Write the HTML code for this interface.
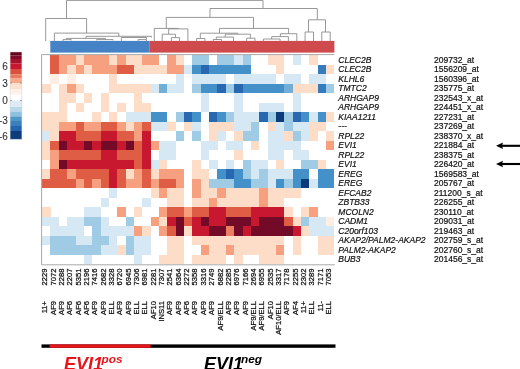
<!DOCTYPE html>
<html><head><meta charset="utf-8"><title>EVI1 heatmap</title>
<style>
html,body{margin:0;padding:0;background:#fff;}
body{width:520px;height:369px;overflow:hidden;}
svg{display:block;font-family:"Liberation Sans",sans-serif;filter:blur(0.5px);}
</style></head><body>
<svg width="520" height="369" viewBox="0 0 520 369">
<rect x="0" y="0" width="520" height="369" fill="#fff"/>
<g shape-rendering="crispEdges">
<rect x="50.45" y="55.00" width="8.40" height="9.55" fill="#df5d45"/><rect x="58.80" y="55.00" width="8.40" height="9.55" fill="#f7a07f"/><rect x="67.15" y="55.00" width="8.40" height="9.55" fill="#f7a07f"/><rect x="75.50" y="55.00" width="8.40" height="9.55" fill="#fddcc8"/><rect x="83.85" y="55.00" width="8.40" height="9.55" fill="#f7a07f"/><rect x="92.20" y="55.00" width="8.40" height="9.55" fill="#f7a07f"/><rect x="100.55" y="55.00" width="8.40" height="9.55" fill="#f7a07f"/><rect x="108.90" y="55.00" width="8.40" height="9.55" fill="#fddcc8"/><rect x="117.25" y="55.00" width="8.40" height="9.55" fill="#f7a07f"/><rect x="125.60" y="55.00" width="8.40" height="9.55" fill="#fddcc8"/><rect x="133.95" y="55.00" width="8.40" height="9.55" fill="#fddcc8"/><rect x="142.30" y="55.00" width="8.40" height="9.55" fill="#f7a07f"/><rect x="150.65" y="55.00" width="8.40" height="9.55" fill="#f7a07f"/><rect x="167.35" y="55.00" width="8.40" height="9.55" fill="#f7a07f"/><rect x="175.70" y="55.00" width="8.40" height="9.55" fill="#fddcc8"/><rect x="192.40" y="55.00" width="8.40" height="9.55" fill="#a0cbe4"/><rect x="200.75" y="55.00" width="8.40" height="9.55" fill="#a0cbe4"/><rect x="217.45" y="55.00" width="8.40" height="9.55" fill="#a0cbe4"/><rect x="225.80" y="55.00" width="8.40" height="9.55" fill="#a0cbe4"/><rect x="234.15" y="55.00" width="8.40" height="9.55" fill="#d6e8f3"/><rect x="242.50" y="55.00" width="8.40" height="9.55" fill="#a0cbe4"/><rect x="267.55" y="55.00" width="8.40" height="9.55" fill="#fddcc8"/><rect x="275.90" y="55.00" width="8.40" height="9.55" fill="#fddcc8"/><rect x="292.60" y="55.00" width="8.40" height="9.55" fill="#d6e8f3"/><rect x="309.30" y="55.00" width="8.40" height="9.55" fill="#fddcc8"/>
<rect x="50.45" y="64.50" width="8.40" height="9.55" fill="#df5d45"/><rect x="58.80" y="64.50" width="8.40" height="9.55" fill="#f7a07f"/><rect x="67.15" y="64.50" width="8.40" height="9.55" fill="#fddcc8"/><rect x="75.50" y="64.50" width="8.40" height="9.55" fill="#f7a07f"/><rect x="83.85" y="64.50" width="8.40" height="9.55" fill="#fddcc8"/><rect x="92.20" y="64.50" width="8.40" height="9.55" fill="#f7a07f"/><rect x="100.55" y="64.50" width="8.40" height="9.55" fill="#f7a07f"/><rect x="108.90" y="64.50" width="8.40" height="9.55" fill="#f7a07f"/><rect x="117.25" y="64.50" width="8.40" height="9.55" fill="#df5d45"/><rect x="125.60" y="64.50" width="8.40" height="9.55" fill="#df5d45"/><rect x="133.95" y="64.50" width="8.40" height="9.55" fill="#fddcc8"/><rect x="142.30" y="64.50" width="8.40" height="9.55" fill="#fddcc8"/><rect x="150.65" y="64.50" width="8.40" height="9.55" fill="#fddcc8"/><rect x="159.00" y="64.50" width="8.40" height="9.55" fill="#fddcc8"/><rect x="167.35" y="64.50" width="8.40" height="9.55" fill="#f7a07f"/><rect x="175.70" y="64.50" width="8.40" height="9.55" fill="#f7a07f"/><rect x="184.05" y="64.50" width="8.40" height="9.55" fill="#d6e8f3"/><rect x="192.40" y="64.50" width="8.40" height="9.55" fill="#4490c8"/><rect x="200.75" y="64.50" width="8.40" height="9.55" fill="#2768b0"/><rect x="209.10" y="64.50" width="8.40" height="9.55" fill="#4490c8"/><rect x="217.45" y="64.50" width="8.40" height="9.55" fill="#4490c8"/><rect x="225.80" y="64.50" width="8.40" height="9.55" fill="#4490c8"/><rect x="234.15" y="64.50" width="8.40" height="9.55" fill="#4490c8"/><rect x="242.50" y="64.50" width="8.40" height="9.55" fill="#4490c8"/><rect x="275.90" y="64.50" width="8.40" height="9.55" fill="#fddcc8"/><rect x="317.65" y="64.50" width="8.40" height="9.55" fill="#367cbc"/><rect x="326.00" y="64.50" width="8.40" height="9.55" fill="#fddcc8"/>
<rect x="50.45" y="74.00" width="8.40" height="9.55" fill="#feeee4"/><rect x="67.15" y="74.00" width="8.40" height="9.55" fill="#feeee4"/><rect x="108.90" y="74.00" width="8.40" height="9.55" fill="#fddcc8"/><rect x="175.70" y="74.00" width="8.40" height="9.55" fill="#d6e8f3"/><rect x="192.40" y="74.00" width="8.40" height="9.55" fill="#d6e8f3"/><rect x="200.75" y="74.00" width="8.40" height="9.55" fill="#d6e8f3"/><rect x="209.10" y="74.00" width="8.40" height="9.55" fill="#d6e8f3"/><rect x="217.45" y="74.00" width="8.40" height="9.55" fill="#d6e8f3"/><rect x="234.15" y="74.00" width="8.40" height="9.55" fill="#d6e8f3"/><rect x="242.50" y="74.00" width="8.40" height="9.55" fill="#d6e8f3"/><rect x="250.85" y="74.00" width="8.40" height="9.55" fill="#d6e8f3"/><rect x="259.20" y="74.00" width="8.40" height="9.55" fill="#d6e8f3"/><rect x="267.55" y="74.00" width="8.40" height="9.55" fill="#d6e8f3"/><rect x="284.25" y="74.00" width="8.40" height="9.55" fill="#d6e8f3"/><rect x="292.60" y="74.00" width="8.40" height="9.55" fill="#d6e8f3"/><rect x="309.30" y="74.00" width="8.40" height="9.55" fill="#d6e8f3"/><rect x="317.65" y="74.00" width="8.40" height="9.55" fill="#d6e8f3"/>
<rect x="42.10" y="83.50" width="8.40" height="9.55" fill="#fddcc8"/><rect x="58.80" y="83.50" width="8.40" height="9.55" fill="#fddcc8"/><rect x="67.15" y="83.50" width="8.40" height="9.55" fill="#f7a07f"/><rect x="75.50" y="83.50" width="8.40" height="9.55" fill="#fddcc8"/><rect x="108.90" y="83.50" width="8.40" height="9.55" fill="#fddcc8"/><rect x="117.25" y="83.50" width="8.40" height="9.55" fill="#fddcc8"/><rect x="125.60" y="83.50" width="8.40" height="9.55" fill="#fddcc8"/><rect x="133.95" y="83.50" width="8.40" height="9.55" fill="#fddcc8"/><rect x="142.30" y="83.50" width="8.40" height="9.55" fill="#fddcc8"/><rect x="150.65" y="83.50" width="8.40" height="9.55" fill="#d6e8f3"/><rect x="159.00" y="83.50" width="8.40" height="9.55" fill="#72aed6"/><rect x="167.35" y="83.50" width="8.40" height="9.55" fill="#d6e8f3"/><rect x="175.70" y="83.50" width="8.40" height="9.55" fill="#d6e8f3"/><rect x="192.40" y="83.50" width="8.40" height="9.55" fill="#a0cbe4"/><rect x="200.75" y="83.50" width="8.40" height="9.55" fill="#4490c8"/><rect x="209.10" y="83.50" width="8.40" height="9.55" fill="#4490c8"/><rect x="217.45" y="83.50" width="8.40" height="9.55" fill="#2768b0"/><rect x="225.80" y="83.50" width="8.40" height="9.55" fill="#a0cbe4"/><rect x="234.15" y="83.50" width="8.40" height="9.55" fill="#2768b0"/><rect x="242.50" y="83.50" width="8.40" height="9.55" fill="#4490c8"/><rect x="250.85" y="83.50" width="8.40" height="9.55" fill="#4490c8"/><rect x="259.20" y="83.50" width="8.40" height="9.55" fill="#4490c8"/><rect x="267.55" y="83.50" width="8.40" height="9.55" fill="#4490c8"/><rect x="275.90" y="83.50" width="8.40" height="9.55" fill="#4490c8"/><rect x="284.25" y="83.50" width="8.40" height="9.55" fill="#72aed6"/><rect x="292.60" y="83.50" width="8.40" height="9.55" fill="#fddcc8"/><rect x="300.95" y="83.50" width="8.40" height="9.55" fill="#fddcc8"/><rect x="309.30" y="83.50" width="8.40" height="9.55" fill="#fddcc8"/><rect x="317.65" y="83.50" width="8.40" height="9.55" fill="#367cbc"/><rect x="326.00" y="83.50" width="8.40" height="9.55" fill="#a0cbe4"/>
<rect x="58.80" y="93.00" width="8.40" height="9.55" fill="#fddcc8"/><rect x="67.15" y="93.00" width="8.40" height="9.55" fill="#fddcc8"/><rect x="83.85" y="93.00" width="8.40" height="9.55" fill="#fddcc8"/><rect x="100.55" y="93.00" width="8.40" height="9.55" fill="#fddcc8"/><rect x="133.95" y="93.00" width="8.40" height="9.55" fill="#fddcc8"/><rect x="200.75" y="93.00" width="8.40" height="9.55" fill="#d6e8f3"/><rect x="234.15" y="93.00" width="8.40" height="9.55" fill="#d6e8f3"/><rect x="292.60" y="93.00" width="8.40" height="9.55" fill="#d6e8f3"/>
<rect x="58.80" y="102.50" width="8.40" height="9.55" fill="#fddcc8"/><rect x="75.50" y="102.50" width="8.40" height="9.55" fill="#fddcc8"/><rect x="100.55" y="102.50" width="8.40" height="9.55" fill="#fddcc8"/><rect x="117.25" y="102.50" width="8.40" height="9.55" fill="#fddcc8"/><rect x="133.95" y="102.50" width="8.40" height="9.55" fill="#fddcc8"/><rect x="142.30" y="102.50" width="8.40" height="9.55" fill="#fddcc8"/><rect x="200.75" y="102.50" width="8.40" height="9.55" fill="#d6e8f3"/><rect x="234.15" y="102.50" width="8.40" height="9.55" fill="#d6e8f3"/><rect x="259.20" y="102.50" width="8.40" height="9.55" fill="#d6e8f3"/><rect x="267.55" y="102.50" width="8.40" height="9.55" fill="#d6e8f3"/><rect x="275.90" y="102.50" width="8.40" height="9.55" fill="#d6e8f3"/><rect x="292.60" y="102.50" width="8.40" height="9.55" fill="#d6e8f3"/>
<rect x="42.10" y="112.00" width="8.40" height="9.55" fill="#fddcc8"/><rect x="50.45" y="112.00" width="8.40" height="9.55" fill="#fddcc8"/><rect x="58.80" y="112.00" width="8.40" height="9.55" fill="#fddcc8"/><rect x="92.20" y="112.00" width="8.40" height="9.55" fill="#fddcc8"/><rect x="108.90" y="112.00" width="8.40" height="9.55" fill="#fddcc8"/><rect x="125.60" y="112.00" width="8.40" height="9.55" fill="#d6e8f3"/><rect x="133.95" y="112.00" width="8.40" height="9.55" fill="#d6e8f3"/><rect x="142.30" y="112.00" width="8.40" height="9.55" fill="#d6e8f3"/><rect x="150.65" y="112.00" width="8.40" height="9.55" fill="#4490c8"/><rect x="159.00" y="112.00" width="8.40" height="9.55" fill="#4490c8"/><rect x="175.70" y="112.00" width="8.40" height="9.55" fill="#a0cbe4"/><rect x="184.05" y="112.00" width="8.40" height="9.55" fill="#2768b0"/><rect x="192.40" y="112.00" width="8.40" height="9.55" fill="#4490c8"/><rect x="209.10" y="112.00" width="8.40" height="9.55" fill="#2768b0"/><rect x="217.45" y="112.00" width="8.40" height="9.55" fill="#4490c8"/><rect x="225.80" y="112.00" width="8.40" height="9.55" fill="#a0cbe4"/><rect x="234.15" y="112.00" width="8.40" height="9.55" fill="#d6e8f3"/><rect x="242.50" y="112.00" width="8.40" height="9.55" fill="#d6e8f3"/><rect x="250.85" y="112.00" width="8.40" height="9.55" fill="#d6e8f3"/><rect x="259.20" y="112.00" width="8.40" height="9.55" fill="#2768b0"/><rect x="267.55" y="112.00" width="8.40" height="9.55" fill="#a0cbe4"/><rect x="275.90" y="112.00" width="8.40" height="9.55" fill="#0d3a78"/><rect x="284.25" y="112.00" width="8.40" height="9.55" fill="#a0cbe4"/><rect x="292.60" y="112.00" width="8.40" height="9.55" fill="#2768b0"/><rect x="300.95" y="112.00" width="8.40" height="9.55" fill="#4490c8"/><rect x="309.30" y="112.00" width="8.40" height="9.55" fill="#d6e8f3"/><rect x="317.65" y="112.00" width="8.40" height="9.55" fill="#4490c8"/><rect x="326.00" y="112.00" width="8.40" height="9.55" fill="#fddcc8"/>
<rect x="42.10" y="121.50" width="8.40" height="9.55" fill="#fddcc8"/><rect x="50.45" y="121.50" width="8.40" height="9.55" fill="#fddcc8"/><rect x="58.80" y="121.50" width="8.40" height="9.55" fill="#f7a07f"/><rect x="67.15" y="121.50" width="8.40" height="9.55" fill="#f7a07f"/><rect x="75.50" y="121.50" width="8.40" height="9.55" fill="#df5d45"/><rect x="83.85" y="121.50" width="8.40" height="9.55" fill="#f7a07f"/><rect x="92.20" y="121.50" width="8.40" height="9.55" fill="#f7a07f"/><rect x="100.55" y="121.50" width="8.40" height="9.55" fill="#df5d45"/><rect x="108.90" y="121.50" width="8.40" height="9.55" fill="#df5d45"/><rect x="117.25" y="121.50" width="8.40" height="9.55" fill="#f7a07f"/><rect x="125.60" y="121.50" width="8.40" height="9.55" fill="#fddcc8"/><rect x="133.95" y="121.50" width="8.40" height="9.55" fill="#f7a07f"/><rect x="142.30" y="121.50" width="8.40" height="9.55" fill="#df5d45"/><rect x="150.65" y="121.50" width="8.40" height="9.55" fill="#d6e8f3"/><rect x="159.00" y="121.50" width="8.40" height="9.55" fill="#d6e8f3"/><rect x="167.35" y="121.50" width="8.40" height="9.55" fill="#fddcc8"/><rect x="184.05" y="121.50" width="8.40" height="9.55" fill="#fddcc8"/><rect x="192.40" y="121.50" width="8.40" height="9.55" fill="#d6e8f3"/><rect x="209.10" y="121.50" width="8.40" height="9.55" fill="#fddcc8"/><rect x="217.45" y="121.50" width="8.40" height="9.55" fill="#fddcc8"/><rect x="225.80" y="121.50" width="8.40" height="9.55" fill="#fddcc8"/><rect x="234.15" y="121.50" width="8.40" height="9.55" fill="#d6e8f3"/><rect x="242.50" y="121.50" width="8.40" height="9.55" fill="#d6e8f3"/><rect x="250.85" y="121.50" width="8.40" height="9.55" fill="#a0cbe4"/><rect x="267.55" y="121.50" width="8.40" height="9.55" fill="#fddcc8"/><rect x="275.90" y="121.50" width="8.40" height="9.55" fill="#d6e8f3"/><rect x="284.25" y="121.50" width="8.40" height="9.55" fill="#a0cbe4"/><rect x="292.60" y="121.50" width="8.40" height="9.55" fill="#d6e8f3"/><rect x="300.95" y="121.50" width="8.40" height="9.55" fill="#d6e8f3"/><rect x="309.30" y="121.50" width="8.40" height="9.55" fill="#fddcc8"/><rect x="317.65" y="121.50" width="8.40" height="9.55" fill="#fddcc8"/>
<rect x="42.10" y="131.00" width="8.40" height="9.55" fill="#d6e8f3"/><rect x="50.45" y="131.00" width="8.40" height="9.55" fill="#fddcc8"/><rect x="58.80" y="131.00" width="8.40" height="9.55" fill="#c8182f"/><rect x="67.15" y="131.00" width="8.40" height="9.55" fill="#c8182f"/><rect x="75.50" y="131.00" width="8.40" height="9.55" fill="#df5d45"/><rect x="83.85" y="131.00" width="8.40" height="9.55" fill="#df5d45"/><rect x="92.20" y="131.00" width="8.40" height="9.55" fill="#df5d45"/><rect x="100.55" y="131.00" width="8.40" height="9.55" fill="#c8182f"/><rect x="108.90" y="131.00" width="8.40" height="9.55" fill="#c8182f"/><rect x="117.25" y="131.00" width="8.40" height="9.55" fill="#df5d45"/><rect x="125.60" y="131.00" width="8.40" height="9.55" fill="#df5d45"/><rect x="133.95" y="131.00" width="8.40" height="9.55" fill="#f7a07f"/><rect x="142.30" y="131.00" width="8.40" height="9.55" fill="#c8182f"/><rect x="175.70" y="131.00" width="8.40" height="9.55" fill="#a0cbe4"/><rect x="192.40" y="131.00" width="8.40" height="9.55" fill="#a0cbe4"/><rect x="209.10" y="131.00" width="8.40" height="9.55" fill="#fddcc8"/><rect x="217.45" y="131.00" width="8.40" height="9.55" fill="#d6e8f3"/><rect x="234.15" y="131.00" width="8.40" height="9.55" fill="#fddcc8"/><rect x="242.50" y="131.00" width="8.40" height="9.55" fill="#a0cbe4"/><rect x="250.85" y="131.00" width="8.40" height="9.55" fill="#a0cbe4"/><rect x="267.55" y="131.00" width="8.40" height="9.55" fill="#d6e8f3"/><rect x="275.90" y="131.00" width="8.40" height="9.55" fill="#d6e8f3"/><rect x="284.25" y="131.00" width="8.40" height="9.55" fill="#fddcc8"/><rect x="292.60" y="131.00" width="8.40" height="9.55" fill="#a0cbe4"/><rect x="300.95" y="131.00" width="8.40" height="9.55" fill="#d6e8f3"/><rect x="309.30" y="131.00" width="8.40" height="9.55" fill="#fddcc8"/><rect x="326.00" y="131.00" width="8.40" height="9.55" fill="#fddcc8"/>
<rect x="42.10" y="140.50" width="8.40" height="9.55" fill="#fddcc8"/><rect x="50.45" y="140.50" width="8.40" height="9.55" fill="#df5d45"/><rect x="58.80" y="140.50" width="8.40" height="9.55" fill="#730a27"/><rect x="67.15" y="140.50" width="8.40" height="9.55" fill="#c8182f"/><rect x="75.50" y="140.50" width="8.40" height="9.55" fill="#c8182f"/><rect x="83.85" y="140.50" width="8.40" height="9.55" fill="#730a27"/><rect x="92.20" y="140.50" width="8.40" height="9.55" fill="#c8182f"/><rect x="100.55" y="140.50" width="8.40" height="9.55" fill="#730a27"/><rect x="108.90" y="140.50" width="8.40" height="9.55" fill="#730a27"/><rect x="117.25" y="140.50" width="8.40" height="9.55" fill="#c8182f"/><rect x="125.60" y="140.50" width="8.40" height="9.55" fill="#730a27"/><rect x="133.95" y="140.50" width="8.40" height="9.55" fill="#df5d45"/><rect x="142.30" y="140.50" width="8.40" height="9.55" fill="#c8182f"/><rect x="150.65" y="140.50" width="8.40" height="9.55" fill="#f7a07f"/><rect x="159.00" y="140.50" width="8.40" height="9.55" fill="#d6e8f3"/><rect x="167.35" y="140.50" width="8.40" height="9.55" fill="#d6e8f3"/><rect x="200.75" y="140.50" width="8.40" height="9.55" fill="#d6e8f3"/><rect x="209.10" y="140.50" width="8.40" height="9.55" fill="#d6e8f3"/><rect x="225.80" y="140.50" width="8.40" height="9.55" fill="#d6e8f3"/><rect x="234.15" y="140.50" width="8.40" height="9.55" fill="#d6e8f3"/><rect x="250.85" y="140.50" width="8.40" height="9.55" fill="#fddcc8"/><rect x="267.55" y="140.50" width="8.40" height="9.55" fill="#d6e8f3"/><rect x="275.90" y="140.50" width="8.40" height="9.55" fill="#d6e8f3"/><rect x="284.25" y="140.50" width="8.40" height="9.55" fill="#d6e8f3"/><rect x="292.60" y="140.50" width="8.40" height="9.55" fill="#d6e8f3"/><rect x="326.00" y="140.50" width="8.40" height="9.55" fill="#f7a07f"/>
<rect x="42.10" y="150.00" width="8.40" height="9.55" fill="#fddcc8"/><rect x="50.45" y="150.00" width="8.40" height="9.55" fill="#f7a07f"/><rect x="58.80" y="150.00" width="8.40" height="9.55" fill="#df5d45"/><rect x="67.15" y="150.00" width="8.40" height="9.55" fill="#df5d45"/><rect x="75.50" y="150.00" width="8.40" height="9.55" fill="#df5d45"/><rect x="83.85" y="150.00" width="8.40" height="9.55" fill="#df5d45"/><rect x="92.20" y="150.00" width="8.40" height="9.55" fill="#df5d45"/><rect x="100.55" y="150.00" width="8.40" height="9.55" fill="#c8182f"/><rect x="108.90" y="150.00" width="8.40" height="9.55" fill="#c8182f"/><rect x="117.25" y="150.00" width="8.40" height="9.55" fill="#df5d45"/><rect x="125.60" y="150.00" width="8.40" height="9.55" fill="#df5d45"/><rect x="133.95" y="150.00" width="8.40" height="9.55" fill="#df5d45"/><rect x="142.30" y="150.00" width="8.40" height="9.55" fill="#c8182f"/><rect x="159.00" y="150.00" width="8.40" height="9.55" fill="#d6e8f3"/><rect x="167.35" y="150.00" width="8.40" height="9.55" fill="#d6e8f3"/><rect x="200.75" y="150.00" width="8.40" height="9.55" fill="#d6e8f3"/><rect x="234.15" y="150.00" width="8.40" height="9.55" fill="#fddcc8"/><rect x="267.55" y="150.00" width="8.40" height="9.55" fill="#d6e8f3"/><rect x="275.90" y="150.00" width="8.40" height="9.55" fill="#d6e8f3"/><rect x="292.60" y="150.00" width="8.40" height="9.55" fill="#d6e8f3"/><rect x="300.95" y="150.00" width="8.40" height="9.55" fill="#d6e8f3"/>
<rect x="50.45" y="159.50" width="8.40" height="9.55" fill="#f7a07f"/><rect x="58.80" y="159.50" width="8.40" height="9.55" fill="#730a27"/><rect x="67.15" y="159.50" width="8.40" height="9.55" fill="#c8182f"/><rect x="75.50" y="159.50" width="8.40" height="9.55" fill="#c8182f"/><rect x="83.85" y="159.50" width="8.40" height="9.55" fill="#c8182f"/><rect x="92.20" y="159.50" width="8.40" height="9.55" fill="#c8182f"/><rect x="100.55" y="159.50" width="8.40" height="9.55" fill="#c8182f"/><rect x="108.90" y="159.50" width="8.40" height="9.55" fill="#c8182f"/><rect x="117.25" y="159.50" width="8.40" height="9.55" fill="#c8182f"/><rect x="125.60" y="159.50" width="8.40" height="9.55" fill="#c8182f"/><rect x="133.95" y="159.50" width="8.40" height="9.55" fill="#df5d45"/><rect x="142.30" y="159.50" width="8.40" height="9.55" fill="#c8182f"/><rect x="150.65" y="159.50" width="8.40" height="9.55" fill="#d6e8f3"/><rect x="159.00" y="159.50" width="8.40" height="9.55" fill="#fddcc8"/><rect x="192.40" y="159.50" width="8.40" height="9.55" fill="#fddcc8"/><rect x="209.10" y="159.50" width="8.40" height="9.55" fill="#d6e8f3"/><rect x="225.80" y="159.50" width="8.40" height="9.55" fill="#d6e8f3"/><rect x="242.50" y="159.50" width="8.40" height="9.55" fill="#a0cbe4"/><rect x="250.85" y="159.50" width="8.40" height="9.55" fill="#d6e8f3"/><rect x="259.20" y="159.50" width="8.40" height="9.55" fill="#d6e8f3"/><rect x="275.90" y="159.50" width="8.40" height="9.55" fill="#fddcc8"/><rect x="300.95" y="159.50" width="8.40" height="9.55" fill="#a0cbe4"/><rect x="309.30" y="159.50" width="8.40" height="9.55" fill="#a0cbe4"/><rect x="317.65" y="159.50" width="8.40" height="9.55" fill="#fddcc8"/>
<rect x="42.10" y="169.00" width="8.40" height="9.55" fill="#fddcc8"/><rect x="50.45" y="169.00" width="8.40" height="9.55" fill="#df5d45"/><rect x="58.80" y="169.00" width="8.40" height="9.55" fill="#df5d45"/><rect x="67.15" y="169.00" width="8.40" height="9.55" fill="#f7a07f"/><rect x="75.50" y="169.00" width="8.40" height="9.55" fill="#df5d45"/><rect x="83.85" y="169.00" width="8.40" height="9.55" fill="#df5d45"/><rect x="92.20" y="169.00" width="8.40" height="9.55" fill="#df5d45"/><rect x="100.55" y="169.00" width="8.40" height="9.55" fill="#df5d45"/><rect x="108.90" y="169.00" width="8.40" height="9.55" fill="#c8182f"/><rect x="117.25" y="169.00" width="8.40" height="9.55" fill="#df5d45"/><rect x="125.60" y="169.00" width="8.40" height="9.55" fill="#fddcc8"/><rect x="133.95" y="169.00" width="8.40" height="9.55" fill="#f7a07f"/><rect x="142.30" y="169.00" width="8.40" height="9.55" fill="#df5d45"/><rect x="150.65" y="169.00" width="8.40" height="9.55" fill="#fddcc8"/><rect x="159.00" y="169.00" width="8.40" height="9.55" fill="#f7a07f"/><rect x="167.35" y="169.00" width="8.40" height="9.55" fill="#f7a07f"/><rect x="175.70" y="169.00" width="8.40" height="9.55" fill="#f7a07f"/><rect x="192.40" y="169.00" width="8.40" height="9.55" fill="#fddcc8"/><rect x="200.75" y="169.00" width="8.40" height="9.55" fill="#fddcc8"/><rect x="217.45" y="169.00" width="8.40" height="9.55" fill="#4490c8"/><rect x="225.80" y="169.00" width="8.40" height="9.55" fill="#2768b0"/><rect x="234.15" y="169.00" width="8.40" height="9.55" fill="#4490c8"/><rect x="242.50" y="169.00" width="8.40" height="9.55" fill="#a0cbe4"/><rect x="250.85" y="169.00" width="8.40" height="9.55" fill="#d6e8f3"/><rect x="259.20" y="169.00" width="8.40" height="9.55" fill="#a0cbe4"/><rect x="267.55" y="169.00" width="8.40" height="9.55" fill="#d6e8f3"/><rect x="275.90" y="169.00" width="8.40" height="9.55" fill="#d6e8f3"/><rect x="284.25" y="169.00" width="8.40" height="9.55" fill="#d6e8f3"/><rect x="292.60" y="169.00" width="8.40" height="9.55" fill="#4490c8"/><rect x="300.95" y="169.00" width="8.40" height="9.55" fill="#4490c8"/><rect x="317.65" y="169.00" width="8.40" height="9.55" fill="#4490c8"/><rect x="326.00" y="169.00" width="8.40" height="9.55" fill="#4490c8"/>
<rect x="42.10" y="178.50" width="8.40" height="9.55" fill="#df5d45"/><rect x="50.45" y="178.50" width="8.40" height="9.55" fill="#df5d45"/><rect x="58.80" y="178.50" width="8.40" height="9.55" fill="#df5d45"/><rect x="67.15" y="178.50" width="8.40" height="9.55" fill="#df5d45"/><rect x="75.50" y="178.50" width="8.40" height="9.55" fill="#f7a07f"/><rect x="83.85" y="178.50" width="8.40" height="9.55" fill="#df5d45"/><rect x="92.20" y="178.50" width="8.40" height="9.55" fill="#f7a07f"/><rect x="100.55" y="178.50" width="8.40" height="9.55" fill="#df5d45"/><rect x="108.90" y="178.50" width="8.40" height="9.55" fill="#c8182f"/><rect x="117.25" y="178.50" width="8.40" height="9.55" fill="#df5d45"/><rect x="125.60" y="178.50" width="8.40" height="9.55" fill="#f7a07f"/><rect x="133.95" y="178.50" width="8.40" height="9.55" fill="#f7a07f"/><rect x="142.30" y="178.50" width="8.40" height="9.55" fill="#df5d45"/><rect x="150.65" y="178.50" width="8.40" height="9.55" fill="#f7a07f"/><rect x="159.00" y="178.50" width="8.40" height="9.55" fill="#df5d45"/><rect x="167.35" y="178.50" width="8.40" height="9.55" fill="#df5d45"/><rect x="175.70" y="178.50" width="8.40" height="9.55" fill="#f7a07f"/><rect x="192.40" y="178.50" width="8.40" height="9.55" fill="#f7a07f"/><rect x="200.75" y="178.50" width="8.40" height="9.55" fill="#fddcc8"/><rect x="209.10" y="178.50" width="8.40" height="9.55" fill="#a0cbe4"/><rect x="217.45" y="178.50" width="8.40" height="9.55" fill="#a0cbe4"/><rect x="225.80" y="178.50" width="8.40" height="9.55" fill="#a0cbe4"/><rect x="234.15" y="178.50" width="8.40" height="9.55" fill="#4490c8"/><rect x="242.50" y="178.50" width="8.40" height="9.55" fill="#4490c8"/><rect x="250.85" y="178.50" width="8.40" height="9.55" fill="#a0cbe4"/><rect x="259.20" y="178.50" width="8.40" height="9.55" fill="#a0cbe4"/><rect x="267.55" y="178.50" width="8.40" height="9.55" fill="#d6e8f3"/><rect x="275.90" y="178.50" width="8.40" height="9.55" fill="#4490c8"/><rect x="284.25" y="178.50" width="8.40" height="9.55" fill="#a0cbe4"/><rect x="292.60" y="178.50" width="8.40" height="9.55" fill="#4490c8"/><rect x="300.95" y="178.50" width="8.40" height="9.55" fill="#0d3a78"/><rect x="309.30" y="178.50" width="8.40" height="9.55" fill="#d6e8f3"/><rect x="317.65" y="178.50" width="8.40" height="9.55" fill="#4490c8"/><rect x="326.00" y="178.50" width="8.40" height="9.55" fill="#4490c8"/>
<rect x="108.90" y="188.00" width="8.40" height="9.55" fill="#d6e8f3"/><rect x="150.65" y="188.00" width="8.40" height="9.55" fill="#fddcc8"/><rect x="159.00" y="188.00" width="8.40" height="9.55" fill="#f7a07f"/><rect x="167.35" y="188.00" width="8.40" height="9.55" fill="#fddcc8"/><rect x="175.70" y="188.00" width="8.40" height="9.55" fill="#fddcc8"/><rect x="192.40" y="188.00" width="8.40" height="9.55" fill="#f7a07f"/><rect x="200.75" y="188.00" width="8.40" height="9.55" fill="#fddcc8"/><rect x="209.10" y="188.00" width="8.40" height="9.55" fill="#fddcc8"/><rect x="217.45" y="188.00" width="8.40" height="9.55" fill="#f7a07f"/><rect x="225.80" y="188.00" width="8.40" height="9.55" fill="#fddcc8"/><rect x="234.15" y="188.00" width="8.40" height="9.55" fill="#fddcc8"/><rect x="242.50" y="188.00" width="8.40" height="9.55" fill="#fddcc8"/><rect x="250.85" y="188.00" width="8.40" height="9.55" fill="#fddcc8"/><rect x="259.20" y="188.00" width="8.40" height="9.55" fill="#f7a07f"/><rect x="267.55" y="188.00" width="8.40" height="9.55" fill="#fddcc8"/><rect x="275.90" y="188.00" width="8.40" height="9.55" fill="#fddcc8"/><rect x="284.25" y="188.00" width="8.40" height="9.55" fill="#fddcc8"/><rect x="292.60" y="188.00" width="8.40" height="9.55" fill="#fddcc8"/>
<rect x="100.55" y="197.50" width="8.40" height="9.55" fill="#d6e8f3"/><rect x="142.30" y="197.50" width="8.40" height="9.55" fill="#d6e8f3"/><rect x="167.35" y="197.50" width="8.40" height="9.55" fill="#fddcc8"/><rect x="175.70" y="197.50" width="8.40" height="9.55" fill="#fddcc8"/><rect x="192.40" y="197.50" width="8.40" height="9.55" fill="#fddcc8"/><rect x="200.75" y="197.50" width="8.40" height="9.55" fill="#fddcc8"/><rect x="209.10" y="197.50" width="8.40" height="9.55" fill="#f7a07f"/><rect x="217.45" y="197.50" width="8.40" height="9.55" fill="#fddcc8"/><rect x="225.80" y="197.50" width="8.40" height="9.55" fill="#fddcc8"/><rect x="234.15" y="197.50" width="8.40" height="9.55" fill="#fddcc8"/><rect x="242.50" y="197.50" width="8.40" height="9.55" fill="#fddcc8"/><rect x="250.85" y="197.50" width="8.40" height="9.55" fill="#fddcc8"/><rect x="259.20" y="197.50" width="8.40" height="9.55" fill="#f7a07f"/><rect x="267.55" y="197.50" width="8.40" height="9.55" fill="#fddcc8"/><rect x="275.90" y="197.50" width="8.40" height="9.55" fill="#fddcc8"/>
<rect x="42.10" y="207.00" width="8.40" height="9.55" fill="#fddcc8"/><rect x="83.85" y="207.00" width="8.40" height="9.55" fill="#d6e8f3"/><rect x="92.20" y="207.00" width="8.40" height="9.55" fill="#d6e8f3"/><rect x="117.25" y="207.00" width="8.40" height="9.55" fill="#f7a07f"/><rect x="133.95" y="207.00" width="8.40" height="9.55" fill="#fddcc8"/><rect x="159.00" y="207.00" width="8.40" height="9.55" fill="#f7a07f"/><rect x="167.35" y="207.00" width="8.40" height="9.55" fill="#df5d45"/><rect x="175.70" y="207.00" width="8.40" height="9.55" fill="#df5d45"/><rect x="184.05" y="207.00" width="8.40" height="9.55" fill="#f7a07f"/><rect x="192.40" y="207.00" width="8.40" height="9.55" fill="#df5d45"/><rect x="200.75" y="207.00" width="8.40" height="9.55" fill="#df5d45"/><rect x="209.10" y="207.00" width="8.40" height="9.55" fill="#c8182f"/><rect x="217.45" y="207.00" width="8.40" height="9.55" fill="#c8182f"/><rect x="225.80" y="207.00" width="8.40" height="9.55" fill="#df5d45"/><rect x="234.15" y="207.00" width="8.40" height="9.55" fill="#df5d45"/><rect x="242.50" y="207.00" width="8.40" height="9.55" fill="#df5d45"/><rect x="250.85" y="207.00" width="8.40" height="9.55" fill="#c8182f"/><rect x="259.20" y="207.00" width="8.40" height="9.55" fill="#c8182f"/><rect x="267.55" y="207.00" width="8.40" height="9.55" fill="#c8182f"/><rect x="275.90" y="207.00" width="8.40" height="9.55" fill="#c8182f"/><rect x="284.25" y="207.00" width="8.40" height="9.55" fill="#fddcc8"/><rect x="300.95" y="207.00" width="8.40" height="9.55" fill="#fddcc8"/><rect x="309.30" y="207.00" width="8.40" height="9.55" fill="#f7a07f"/>
<rect x="42.10" y="216.50" width="8.40" height="9.55" fill="#d6e8f3"/><rect x="50.45" y="216.50" width="8.40" height="9.55" fill="#d6e8f3"/><rect x="67.15" y="216.50" width="8.40" height="9.55" fill="#d6e8f3"/><rect x="75.50" y="216.50" width="8.40" height="9.55" fill="#d6e8f3"/><rect x="83.85" y="216.50" width="8.40" height="9.55" fill="#a0cbe4"/><rect x="92.20" y="216.50" width="8.40" height="9.55" fill="#a0cbe4"/><rect x="100.55" y="216.50" width="8.40" height="9.55" fill="#d6e8f3"/><rect x="125.60" y="216.50" width="8.40" height="9.55" fill="#a0cbe4"/><rect x="150.65" y="216.50" width="8.40" height="9.55" fill="#f7a07f"/><rect x="159.00" y="216.50" width="8.40" height="9.55" fill="#fddcc8"/><rect x="167.35" y="216.50" width="8.40" height="9.55" fill="#c8182f"/><rect x="175.70" y="216.50" width="8.40" height="9.55" fill="#730a27"/><rect x="184.05" y="216.50" width="8.40" height="9.55" fill="#df5d45"/><rect x="192.40" y="216.50" width="8.40" height="9.55" fill="#c8182f"/><rect x="200.75" y="216.50" width="8.40" height="9.55" fill="#730a27"/><rect x="209.10" y="216.50" width="8.40" height="9.55" fill="#c8182f"/><rect x="217.45" y="216.50" width="8.40" height="9.55" fill="#c8182f"/><rect x="225.80" y="216.50" width="8.40" height="9.55" fill="#730a27"/><rect x="234.15" y="216.50" width="8.40" height="9.55" fill="#730a27"/><rect x="242.50" y="216.50" width="8.40" height="9.55" fill="#730a27"/><rect x="250.85" y="216.50" width="8.40" height="9.55" fill="#c8182f"/><rect x="259.20" y="216.50" width="8.40" height="9.55" fill="#730a27"/><rect x="267.55" y="216.50" width="8.40" height="9.55" fill="#730a27"/><rect x="275.90" y="216.50" width="8.40" height="9.55" fill="#730a27"/><rect x="284.25" y="216.50" width="8.40" height="9.55" fill="#df5d45"/><rect x="292.60" y="216.50" width="8.40" height="9.55" fill="#fddcc8"/><rect x="300.95" y="216.50" width="8.40" height="9.55" fill="#a0cbe4"/><rect x="309.30" y="216.50" width="8.40" height="9.55" fill="#d6e8f3"/><rect x="317.65" y="216.50" width="8.40" height="9.55" fill="#d6e8f3"/><rect x="326.00" y="216.50" width="8.40" height="9.55" fill="#feeee4"/>
<rect x="50.45" y="226.00" width="8.40" height="9.55" fill="#d6e8f3"/><rect x="58.80" y="226.00" width="8.40" height="9.55" fill="#d6e8f3"/><rect x="67.15" y="226.00" width="8.40" height="9.55" fill="#d6e8f3"/><rect x="75.50" y="226.00" width="8.40" height="9.55" fill="#d6e8f3"/><rect x="92.20" y="226.00" width="8.40" height="9.55" fill="#a0cbe4"/><rect x="100.55" y="226.00" width="8.40" height="9.55" fill="#d6e8f3"/><rect x="108.90" y="226.00" width="8.40" height="9.55" fill="#d6e8f3"/><rect x="117.25" y="226.00" width="8.40" height="9.55" fill="#d6e8f3"/><rect x="125.60" y="226.00" width="8.40" height="9.55" fill="#d6e8f3"/><rect x="133.95" y="226.00" width="8.40" height="9.55" fill="#f7a07f"/><rect x="142.30" y="226.00" width="8.40" height="9.55" fill="#fddcc8"/><rect x="159.00" y="226.00" width="8.40" height="9.55" fill="#f7a07f"/><rect x="167.35" y="226.00" width="8.40" height="9.55" fill="#df5d45"/><rect x="175.70" y="226.00" width="8.40" height="9.55" fill="#730a27"/><rect x="184.05" y="226.00" width="8.40" height="9.55" fill="#fddcc8"/><rect x="192.40" y="226.00" width="8.40" height="9.55" fill="#c8182f"/><rect x="200.75" y="226.00" width="8.40" height="9.55" fill="#c8182f"/><rect x="209.10" y="226.00" width="8.40" height="9.55" fill="#730a27"/><rect x="217.45" y="226.00" width="8.40" height="9.55" fill="#730a27"/><rect x="225.80" y="226.00" width="8.40" height="9.55" fill="#eb7e62"/><rect x="234.15" y="226.00" width="8.40" height="9.55" fill="#730a27"/><rect x="242.50" y="226.00" width="8.40" height="9.55" fill="#c8182f"/><rect x="250.85" y="226.00" width="8.40" height="9.55" fill="#730a27"/><rect x="259.20" y="226.00" width="8.40" height="9.55" fill="#730a27"/><rect x="267.55" y="226.00" width="8.40" height="9.55" fill="#730a27"/><rect x="275.90" y="226.00" width="8.40" height="9.55" fill="#730a27"/><rect x="284.25" y="226.00" width="8.40" height="9.55" fill="#730a27"/><rect x="292.60" y="226.00" width="8.40" height="9.55" fill="#c8182f"/><rect x="300.95" y="226.00" width="8.40" height="9.55" fill="#fddcc8"/><rect x="309.30" y="226.00" width="8.40" height="9.55" fill="#d6e8f3"/><rect x="317.65" y="226.00" width="8.40" height="9.55" fill="#d6e8f3"/><rect x="326.00" y="226.00" width="8.40" height="9.55" fill="#d6e8f3"/>
<rect x="42.10" y="235.50" width="8.40" height="9.55" fill="#d6e8f3"/><rect x="50.45" y="235.50" width="8.40" height="9.55" fill="#a0cbe4"/><rect x="58.80" y="235.50" width="8.40" height="9.55" fill="#a0cbe4"/><rect x="67.15" y="235.50" width="8.40" height="9.55" fill="#a0cbe4"/><rect x="75.50" y="235.50" width="8.40" height="9.55" fill="#d6e8f3"/><rect x="83.85" y="235.50" width="8.40" height="9.55" fill="#d6e8f3"/><rect x="92.20" y="235.50" width="8.40" height="9.55" fill="#a0cbe4"/><rect x="100.55" y="235.50" width="8.40" height="9.55" fill="#a0cbe4"/><rect x="108.90" y="235.50" width="8.40" height="9.55" fill="#d6e8f3"/><rect x="125.60" y="235.50" width="8.40" height="9.55" fill="#a0cbe4"/><rect x="133.95" y="235.50" width="8.40" height="9.55" fill="#d6e8f3"/><rect x="142.30" y="235.50" width="8.40" height="9.55" fill="#d6e8f3"/><rect x="167.35" y="235.50" width="8.40" height="9.55" fill="#fddcc8"/><rect x="175.70" y="235.50" width="8.40" height="9.55" fill="#fddcc8"/><rect x="192.40" y="235.50" width="8.40" height="9.55" fill="#fddcc8"/><rect x="200.75" y="235.50" width="8.40" height="9.55" fill="#fddcc8"/><rect x="209.10" y="235.50" width="8.40" height="9.55" fill="#fddcc8"/><rect x="217.45" y="235.50" width="8.40" height="9.55" fill="#fddcc8"/><rect x="225.80" y="235.50" width="8.40" height="9.55" fill="#fddcc8"/><rect x="234.15" y="235.50" width="8.40" height="9.55" fill="#fddcc8"/><rect x="242.50" y="235.50" width="8.40" height="9.55" fill="#fddcc8"/><rect x="250.85" y="235.50" width="8.40" height="9.55" fill="#fddcc8"/><rect x="259.20" y="235.50" width="8.40" height="9.55" fill="#fddcc8"/><rect x="267.55" y="235.50" width="8.40" height="9.55" fill="#fddcc8"/><rect x="275.90" y="235.50" width="8.40" height="9.55" fill="#fddcc8"/><rect x="292.60" y="235.50" width="8.40" height="9.55" fill="#fddcc8"/><rect x="317.65" y="235.50" width="8.40" height="9.55" fill="#fddcc8"/><rect x="326.00" y="235.50" width="8.40" height="9.55" fill="#fddcc8"/>
<rect x="50.45" y="245.00" width="8.40" height="9.55" fill="#a0cbe4"/><rect x="58.80" y="245.00" width="8.40" height="9.55" fill="#a0cbe4"/><rect x="67.15" y="245.00" width="8.40" height="9.55" fill="#a0cbe4"/><rect x="75.50" y="245.00" width="8.40" height="9.55" fill="#a0cbe4"/><rect x="83.85" y="245.00" width="8.40" height="9.55" fill="#a0cbe4"/><rect x="92.20" y="245.00" width="8.40" height="9.55" fill="#a0cbe4"/><rect x="100.55" y="245.00" width="8.40" height="9.55" fill="#d6e8f3"/><rect x="108.90" y="245.00" width="8.40" height="9.55" fill="#d6e8f3"/><rect x="117.25" y="245.00" width="8.40" height="9.55" fill="#fddcc8"/><rect x="125.60" y="245.00" width="8.40" height="9.55" fill="#a0cbe4"/><rect x="133.95" y="245.00" width="8.40" height="9.55" fill="#d6e8f3"/><rect x="142.30" y="245.00" width="8.40" height="9.55" fill="#d6e8f3"/><rect x="167.35" y="245.00" width="8.40" height="9.55" fill="#fddcc8"/><rect x="175.70" y="245.00" width="8.40" height="9.55" fill="#fddcc8"/><rect x="200.75" y="245.00" width="8.40" height="9.55" fill="#f7a07f"/><rect x="209.10" y="245.00" width="8.40" height="9.55" fill="#fddcc8"/><rect x="217.45" y="245.00" width="8.40" height="9.55" fill="#fddcc8"/><rect x="225.80" y="245.00" width="8.40" height="9.55" fill="#f7a07f"/><rect x="234.15" y="245.00" width="8.40" height="9.55" fill="#fddcc8"/><rect x="242.50" y="245.00" width="8.40" height="9.55" fill="#fddcc8"/><rect x="250.85" y="245.00" width="8.40" height="9.55" fill="#fddcc8"/><rect x="259.20" y="245.00" width="8.40" height="9.55" fill="#fddcc8"/><rect x="267.55" y="245.00" width="8.40" height="9.55" fill="#fddcc8"/><rect x="275.90" y="245.00" width="8.40" height="9.55" fill="#f7a07f"/><rect x="292.60" y="245.00" width="8.40" height="9.55" fill="#fddcc8"/><rect x="317.65" y="245.00" width="8.40" height="9.55" fill="#fddcc8"/><rect x="326.00" y="245.00" width="8.40" height="9.55" fill="#fddcc8"/>
<rect x="83.85" y="254.50" width="8.40" height="9.55" fill="#d6e8f3"/><rect x="133.95" y="254.50" width="8.40" height="9.55" fill="#d6e8f3"/><rect x="159.00" y="254.50" width="8.40" height="9.55" fill="#fddcc8"/><rect x="167.35" y="254.50" width="8.40" height="9.55" fill="#fddcc8"/><rect x="175.70" y="254.50" width="8.40" height="9.55" fill="#fddcc8"/><rect x="192.40" y="254.50" width="8.40" height="9.55" fill="#fddcc8"/><rect x="200.75" y="254.50" width="8.40" height="9.55" fill="#fddcc8"/><rect x="209.10" y="254.50" width="8.40" height="9.55" fill="#fddcc8"/><rect x="217.45" y="254.50" width="8.40" height="9.55" fill="#fddcc8"/><rect x="234.15" y="254.50" width="8.40" height="9.55" fill="#fddcc8"/><rect x="259.20" y="254.50" width="8.40" height="9.55" fill="#fddcc8"/><rect x="267.55" y="254.50" width="8.40" height="9.55" fill="#fddcc8"/><rect x="275.90" y="254.50" width="8.40" height="9.55" fill="#fddcc8"/>
</g>
<path d="M41.6 54.6 H334.3 M41.6 54.6 V264.8 H334.8" fill="none" stroke="#a8a8a8" stroke-width="1"/>
<rect x="50.3" y="40.9" width="99.0" height="11.7" fill="#4583c6"/>
<rect x="149.3" y="40.9" width="185.1" height="11.7" fill="#cf4a4c"/>
<path d="M66.5 0.4L263.0 0.4 M66.5 0.4L66.5 18.5 M263.0 0.4L263.0 8.5 M45.7 18.5L86.6 18.5 M45.7 18.5L45.7 41.0 M86.6 18.5L86.6 33.1 M54.4 33.1L118.8 33.1 M54.4 33.1L54.4 41.3 M118.8 33.1L118.8 36.3 M86.0 36.3L151.6 36.3 M86.0 36.3L86.0 38.4 M151.6 36.3L151.6 37.5 M66.5 38.4L105.5 38.4 M66.5 38.4L66.5 39.6 M105.5 38.4L105.5 39.6 M63.0 39.6L71.3 39.6 M63.0 39.6L63.0 41.3 M71.3 39.6L71.3 40.3 M96.4 39.6L113.1 39.6 M96.4 39.6L96.4 40.3 M113.1 39.6L113.1 40.3 M121.4 37.5L146.5 37.5 M121.4 37.5L121.4 41.3 M146.5 37.5L146.5 39.3 M138.1 39.6L146.5 39.6 M138.1 39.6L138.1 41.3 M146.5 39.6L146.5 41.3 M210.0 8.5L317.3 8.5 M210.0 8.5L210.0 17.4 M317.3 8.5L317.3 19.8 M166.3 17.4L253.5 17.4 M166.3 17.4L166.3 28.4 M253.5 17.4L253.5 28.4 M154.3 28.4L178.3 28.4 M154.3 28.4L154.3 41.3 M178.3 28.4L178.3 28.9 M168.7 28.9L187.9 28.9 M168.7 28.9L168.7 34.2 M187.9 28.9L187.9 41.3 M162.2 34.2L175.4 34.2 M162.2 34.2L162.2 41.3 M175.4 34.2L175.4 37.6 M171.4 37.6L179.5 37.6 M171.4 37.6L171.4 41.3 M179.5 37.6L179.5 41.3 M219.5 28.4L288.6 28.4 M219.5 28.4L219.5 33.2 M288.6 28.4L288.6 33.7 M200.3 33.2L237.8 33.2 M200.3 33.2L200.3 38.5 M237.8 33.2L237.8 34.2 M196.6 38.5L204.9 38.5 M196.6 38.5L196.6 41.3 M204.9 38.5L204.9 41.3 M225.3 34.2L250.4 34.2 M225.3 34.2L225.3 37.1 M250.4 34.2L250.4 38.2 M216.3 37.1L233.5 37.1 M216.3 37.1L216.3 39.5 M233.5 37.1L233.5 41.3 M213.3 39.5L221.6 39.5 M213.3 39.5L213.3 41.3 M221.6 39.5L221.6 41.3 M246.7 38.2L255.0 38.2 M246.7 38.2L246.7 41.3 M255.0 38.2L255.0 41.3 M280.4 33.7L296.8 33.7 M280.4 33.7L280.4 36.6 M296.8 33.7L296.8 41.3 M271.7 36.6L288.4 36.6 M271.7 36.6L271.7 39.0 M288.4 36.6L288.4 41.3 M263.4 39.0L280.1 39.0 M263.4 39.0L263.4 41.3 M280.1 39.0L280.1 41.3 M308.5 19.8L325.5 19.8 M308.5 19.8L308.5 32.0 M325.5 19.8L325.5 32.0 M305.1 32.0L313.5 32.0 M305.1 32.0L305.1 41.3 M313.5 32.0L313.5 41.3 M321.8 32.0L330.2 32.0 M321.8 32.0L321.8 41.3 M330.2 32.0L330.2 41.3" fill="none" stroke="#8c8c8c" stroke-width="0.9"/>
<rect x="10.1" y="52.0" width="11.8" height="3.55" fill="#67001f"/><rect x="10.1" y="55.5" width="11.8" height="3.55" fill="#7e0826"/><rect x="10.1" y="59.0" width="11.8" height="4.55" fill="#a8112c"/><rect x="10.1" y="63.5" width="11.8" height="5.55" fill="#c8172f"/><rect x="10.1" y="69.0" width="11.8" height="5.45" fill="#dc4f3e"/><rect x="10.1" y="74.4" width="11.8" height="4.15" fill="#ea7a5e"/><rect x="10.1" y="78.5" width="11.8" height="4.55" fill="#f8a888"/><rect x="10.1" y="83.0" width="11.8" height="6.35" fill="#fde1cf"/><rect x="10.1" y="89.3" width="11.8" height="5.45" fill="#fdf2ea"/><rect x="10.1" y="94.7" width="11.8" height="5.85" fill="#ffffff"/><rect x="10.1" y="100.5" width="11.8" height="6.55" fill="#dcebf5"/><rect x="10.1" y="107.0" width="11.8" height="4.65" fill="#b9d8ec"/><rect x="10.1" y="111.6" width="11.8" height="4.85" fill="#8cc1e0"/><rect x="10.1" y="116.4" width="11.8" height="4.65" fill="#4f99c9"/><rect x="10.1" y="121.0" width="11.8" height="5.05" fill="#3b80bd"/><rect x="10.1" y="126.0" width="11.8" height="5.05" fill="#2366ae"/><rect x="10.1" y="131.0" width="11.8" height="8.25" fill="#0b3c7b"/>
<rect x="10.1" y="52" width="11.8" height="87.2" fill="none" stroke="#cfcfcf" stroke-width="0.5"/>
<path d="M10.1 83H12 M20 83H21.9 M10.1 100.4H12 M20 100.4H21.9" stroke="#888" stroke-width="0.8"/>
<g font-size="10" fill="#333" stroke="#333" stroke-width="0.1"><text x="7.9" y="69.6" text-anchor="end">6</text><text x="7.9" y="87.3" text-anchor="end">3</text><text x="7.9" y="104.0" text-anchor="end">0</text><text x="7.9" y="124.3" text-anchor="end">-3</text><text x="7.9" y="139.9" text-anchor="end">-6</text></g>
<g font-size="8.5" font-style="italic" fill="#111" stroke="#111" stroke-width="0.2"><text x="338.3" y="62.55">CLEC2B</text><text x="338.3" y="72.05">CLEC2B</text><text x="338.3" y="81.55">KLHL6</text><text x="338.3" y="91.05">TMTC2</text><text x="338.3" y="100.55">ARHGAP9</text><text x="338.3" y="110.05">ARHGAP9</text><text x="338.3" y="119.55">KIAA1211</text><text x="338.3" y="129.05">---</text><text x="338.3" y="138.55">RPL22</text><text x="338.3" y="148.05">EVI1</text><text x="338.3" y="157.55">RPL22</text><text x="338.3" y="167.05">EVI1</text><text x="338.3" y="176.55">EREG</text><text x="338.3" y="186.05">EREG</text><text x="338.3" y="195.55">EFCAB2</text><text x="338.3" y="205.05">ZBTB33</text><text x="338.3" y="214.55">MCOLN2</text><text x="338.3" y="224.05">CADM1</text><text x="338.3" y="233.55">C20orf103</text><text x="338.3" y="243.05">AKAP2/PALM2-AKAP2</text><text x="338.3" y="252.55">PALM2-AKAP2</text><text x="338.3" y="262.05">BUB3</text></g>
<g font-size="8.5" fill="#111" stroke="#111" stroke-width="0.2"><text x="434" y="62.75">209732_at</text><text x="434" y="72.25">1556209_at</text><text x="434" y="81.75">1560396_at</text><text x="434" y="91.25">235775_at</text><text x="434" y="100.75">232543_x_at</text><text x="434" y="110.25">224451_x_at</text><text x="434" y="119.75">227231_at</text><text x="434" y="129.25">237269_at</text><text x="434" y="138.75">238370_x_at</text><text x="434" y="148.25">221884_at</text><text x="434" y="157.75">238375_at</text><text x="434" y="167.25">226420_at</text><text x="434" y="176.75">1569583_at</text><text x="434" y="186.25">205767_at</text><text x="434" y="195.75">211200_s_at</text><text x="434" y="205.25">226255_at</text><text x="434" y="214.75">230110_at</text><text x="434" y="224.25">209031_at</text><text x="434" y="233.75">219463_at</text><text x="434" y="243.25">202759_s_at</text><text x="434" y="252.75">202760_s_at</text><text x="434" y="262.25">201456_s_at</text></g>
<path d="M502 145.80 H520" stroke="#000" stroke-width="2.1"/><path d="M496 145.80 L503 142.60 L502 145.80 L503 149.00 Z" fill="#000"/>
<path d="M502 164.00 H520" stroke="#000" stroke-width="2.1"/><path d="M496 164.00 L503 160.80 L502 164.00 L503 167.20 Z" fill="#000"/>
<g font-size="7.6" fill="#111" stroke="#111" stroke-width="0.25"><text transform="translate(47.17 268.5) rotate(-90)" text-anchor="end">2229</text><text transform="translate(55.52 268.5) rotate(-90)" text-anchor="end">7072</text><text transform="translate(63.88 268.5) rotate(-90)" text-anchor="end">2288</text><text transform="translate(72.23 268.5) rotate(-90)" text-anchor="end">2207</text><text transform="translate(80.58 268.5) rotate(-90)" text-anchor="end">5351</text><text transform="translate(88.93 268.5) rotate(-90)" text-anchor="end">2196</text><text transform="translate(97.28 268.5) rotate(-90)" text-anchor="end">7416</text><text transform="translate(105.62 268.5) rotate(-90)" text-anchor="end">2682</text><text transform="translate(113.97 268.5) rotate(-90)" text-anchor="end">3328</text><text transform="translate(122.33 268.5) rotate(-90)" text-anchor="end">6720</text><text transform="translate(130.68 268.5) rotate(-90)" text-anchor="end">6945</text><text transform="translate(139.03 268.5) rotate(-90)" text-anchor="end">7306</text><text transform="translate(147.38 268.5) rotate(-90)" text-anchor="end">6981</text><text transform="translate(155.72 268.5) rotate(-90)" text-anchor="end">2281</text><text transform="translate(164.07 268.5) rotate(-90)" text-anchor="end">7307</text><text transform="translate(172.42 268.5) rotate(-90)" text-anchor="end">2541</text><text transform="translate(180.78 268.5) rotate(-90)" text-anchor="end">6364</text><text transform="translate(189.12 268.5) rotate(-90)" text-anchor="end">2272</text><text transform="translate(197.47 268.5) rotate(-90)" text-anchor="end">5358</text><text transform="translate(205.82 268.5) rotate(-90)" text-anchor="end">3316</text><text transform="translate(214.17 268.5) rotate(-90)" text-anchor="end">2749</text><text transform="translate(222.53 268.5) rotate(-90)" text-anchor="end">6882</text><text transform="translate(230.88 268.5) rotate(-90)" text-anchor="end">2285</text><text transform="translate(239.22 268.5) rotate(-90)" text-anchor="end">6976</text><text transform="translate(247.57 268.5) rotate(-90)" text-anchor="end">7166</text><text transform="translate(255.92 268.5) rotate(-90)" text-anchor="end">2694</text><text transform="translate(264.27 268.5) rotate(-90)" text-anchor="end">6955</text><text transform="translate(272.62 268.5) rotate(-90)" text-anchor="end">2535</text><text transform="translate(280.97 268.5) rotate(-90)" text-anchor="end">3317</text><text transform="translate(289.32 268.5) rotate(-90)" text-anchor="end">7178</text><text transform="translate(297.67 268.5) rotate(-90)" text-anchor="end">2255</text><text transform="translate(306.02 268.5) rotate(-90)" text-anchor="end">2302</text><text transform="translate(314.38 268.5) rotate(-90)" text-anchor="end">3289</text><text transform="translate(322.72 268.5) rotate(-90)" text-anchor="end">7171</text><text transform="translate(331.07 268.5) rotate(-90)" text-anchor="end">7053</text></g>
<g font-size="7.6" fill="#111" stroke="#111" stroke-width="0.25"><text transform="translate(47.17 301) rotate(-90)" text-anchor="end">11+</text><text transform="translate(55.52 301) rotate(-90)" text-anchor="end">AF9</text><text transform="translate(63.88 301) rotate(-90)" text-anchor="end">AF9</text><text transform="translate(72.23 301) rotate(-90)" text-anchor="end">AF6</text><text transform="translate(80.58 301) rotate(-90)" text-anchor="end">AF6</text><text transform="translate(88.93 301) rotate(-90)" text-anchor="end">AF6</text><text transform="translate(97.28 301) rotate(-90)" text-anchor="end">AF9</text><text transform="translate(105.62 301) rotate(-90)" text-anchor="end">AF9</text><text transform="translate(113.97 301) rotate(-90)" text-anchor="end">ELL</text><text transform="translate(122.33 301) rotate(-90)" text-anchor="end">AF9</text><text transform="translate(130.68 301) rotate(-90)" text-anchor="end">AF9</text><text transform="translate(139.03 301) rotate(-90)" text-anchor="end">ELL</text><text transform="translate(147.38 301) rotate(-90)" text-anchor="end">ELL</text><text transform="translate(155.72 301) rotate(-90)" text-anchor="end">AF10</text><text transform="translate(164.07 301) rotate(-90)" text-anchor="end">INS11</text><text transform="translate(172.42 301) rotate(-90)" text-anchor="end">AF9</text><text transform="translate(180.78 301) rotate(-90)" text-anchor="end">AF9</text><text transform="translate(189.12 301) rotate(-90)" text-anchor="end">AF6</text><text transform="translate(197.47 301) rotate(-90)" text-anchor="end">AF9</text><text transform="translate(205.82 301) rotate(-90)" text-anchor="end">AF9</text><text transform="translate(214.17 301) rotate(-90)" text-anchor="end">AF9</text><text transform="translate(222.53 301) rotate(-90)" text-anchor="end">AF9/ELL</text><text transform="translate(230.88 301) rotate(-90)" text-anchor="end">AF9</text><text transform="translate(239.22 301) rotate(-90)" text-anchor="end">AF9</text><text transform="translate(247.57 301) rotate(-90)" text-anchor="end">AF9</text><text transform="translate(255.92 301) rotate(-90)" text-anchor="end">AF9/ELL</text><text transform="translate(264.27 301) rotate(-90)" text-anchor="end">AF9/ELL</text><text transform="translate(272.62 301) rotate(-90)" text-anchor="end">AF10</text><text transform="translate(280.97 301) rotate(-90)" text-anchor="end">AF10/ELL</text><text transform="translate(289.32 301) rotate(-90)" text-anchor="end">AF9</text><text transform="translate(297.67 301) rotate(-90)" text-anchor="end">AF4</text><text transform="translate(306.02 301) rotate(-90)" text-anchor="end">11+</text><text transform="translate(314.38 301) rotate(-90)" text-anchor="end">ELL</text><text transform="translate(322.72 301) rotate(-90)" text-anchor="end">11-</text><text transform="translate(331.07 301) rotate(-90)" text-anchor="end">ELL</text></g>
<rect x="41.5" y="344.4" width="294" height="3.4" fill="#000"/>
<rect x="49.6" y="344.4" width="101" height="3.4" fill="#e8141b"/>
<text x="64.0" y="370.2" font-size="18" font-weight="bold" font-style="italic" fill="#e8141b">EVI1</text><text x="101.6" y="363.3" font-size="11.8" font-weight="bold" font-style="italic" fill="#e8141b">pos</text>
<text x="204.0" y="370.2" font-size="18" font-weight="bold" font-style="italic" fill="#000">EVI1</text><text x="241.1" y="363.3" font-size="11.8" font-weight="bold" font-style="italic" fill="#000">neg</text>
</svg>
</body></html>
